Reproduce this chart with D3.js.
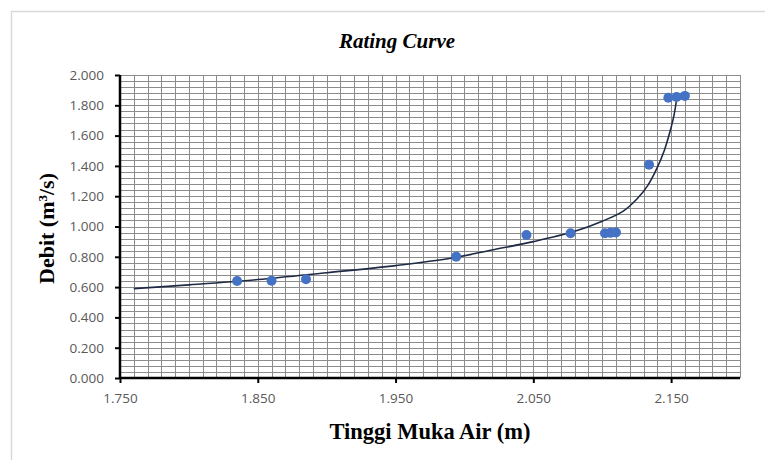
<!DOCTYPE html>
<html>
<head>
<meta charset="utf-8">
<script src="https://cdn.jsdelivr.net/npm/d3@7"></script>
<style>
  body { margin: 0; background: #fff; }
</style>
</head>
<body>
<div id="chart"></div>
<script>
const width = 765;
const height = 460;
const marginTop = 75;
const marginRight = 25;
const marginBottom = 82;
const marginLeft = 120;

// measured points (tinggi muka air vs debit)
const tinggi = [1.835, 1.860, 1.885, 1.994, 2.045, 2.077, 2.102, 2.106, 2.110, 2.134, 2.148, 2.154, 2.160];
const debit  = [0.640, 0.642, 0.652, 0.801, 0.944, 0.955, 0.955, 0.958, 0.960, 1.408, 1.850, 1.855, 1.862];

// trend line
const curveH = [1.760, 1.800, 1.850, 1.900, 1.950, 1.990, 2.020, 2.050, 2.080, 2.100, 2.115, 2.125, 2.133, 2.140, 2.145, 2.149, 2.152, 2.154];
const curveQ = [0.590, 0.615, 0.650, 0.695, 0.742, 0.790, 0.845, 0.900, 0.968, 1.035, 1.100, 1.180, 1.270, 1.390, 1.500, 1.620, 1.730, 1.840];

const xTicks = [1.75, 1.85, 1.95, 2.05, 2.15];
const yTicks = [0, 0.2, 0.4, 0.6, 0.8, 1.0, 1.2, 1.4, 1.6, 1.8, 2.0];

const svg = d3.select("#chart")
    .append("svg")
    .attr("width", width)
    .attr("height", height)
    .style("font-family", "'Liberation Serif', 'Times New Roman', serif");

// outer chart border
svg.append("path")
    .attr("d", `M11.5,${height} V11.5 H${width}`)
    .attr("fill", "none")
    .attr("stroke", "#d9d9d9")
    .attr("stroke-width", 1.5);

const x = d3.scaleLinear()
    .domain([1.75, 2.2])
    .range([marginLeft, width - marginRight]);

const y = d3.scaleLinear()
    .domain([0, 2])
    .range([height - marginBottom, marginTop]);

// minor grid
const xMinor = d3.range(0, 46).map(i => 1.75 + i * 0.01);
const yMinor = d3.range(0, 51).map(i => i * 0.04);

const grid = svg.append("g").attr("stroke", "#8c8c8c").attr("stroke-width", 1);
grid.selectAll("line.v")
    .data(xMinor)
    .join("line")
    .attr("class", "v")
    .attr("x1", d => Math.round(x(d)) + 0.5)
    .attr("x2", d => Math.round(x(d)) + 0.5)
    .attr("y1", y(0))
    .attr("y2", y(2));
grid.selectAll("line.h")
    .data(yMinor)
    .join("line")
    .attr("class", "h")
    .attr("x1", x(1.75))
    .attr("x2", x(2.2))
    .attr("y1", d => Math.round(y(d)) + 0.5)
    .attr("y2", d => Math.round(y(d)) + 0.5);

// axes
const tickFont = "'Open Sans', sans-serif";
const yAxis = svg.append("g")
    .attr("transform", `translate(${marginLeft},0)`)
    .call(d3.axisLeft(y).tickValues(yTicks).tickFormat(d3.format(".3f")).tickSize(5).tickPadding(11));
const xAxis = svg.append("g")
    .attr("transform", `translate(0,${height - marginBottom})`)
    .call(d3.axisBottom(x).tickValues(xTicks).tickFormat(d3.format(".3f")).tickSize(5).tickPadding(10));

[yAxis, xAxis].forEach(a => {
    a.select(".domain").attr("stroke", "#000").attr("stroke-width", 2.5);
    a.selectAll(".tick line").attr("stroke", "#000").attr("stroke-width", 2);
    a.selectAll(".tick text")
        .attr("fill", "#595959")
        .style("font-family", tickFont)
        .style("font-size", "13.5px");
});
yAxis.select(".domain").attr("d", `M0,${y(0)}V${y(2)}`);
xAxis.select(".domain").attr("d", `M${x(1.75)},0H${x(2.2)}`);

// trend line
const line = d3.line()
    .x(d => x(d[0]))
    .y(d => y(d[1]))
    .curve(d3.curveCatmullRom.alpha(0.5));

svg.append("path")
    .datum(curveH.map((h, i) => [h, curveQ[i]]))
    .attr("fill", "none")
    .attr("stroke", "#1f2a44")
    .attr("stroke-width", 1.6)
    .attr("d", line);

// points
svg.append("g")
    .selectAll("circle")
    .data(tinggi.map((h, i) => [h, debit[i]]))
    .join("circle")
    .attr("cx", d => x(d[0]))
    .attr("cy", d => y(d[1]))
    .attr("r", 5)
    .attr("fill", "#4472c4");

// titles
svg.append("text")
    .attr("x", 397)
    .attr("y", 48)
    .attr("text-anchor", "middle")
    .style("font-size", "21px")
    .style("font-weight", "bold")
    .style("font-style", "italic")
    .text("Rating Curve");

const yTitle = svg.append("text")
    .attr("transform", `translate(54, ${(y(0) + y(2)) / 2 + 2}) rotate(-90)`)
    .attr("text-anchor", "middle")
    .style("font-size", "22px")
    .style("font-weight", "bold");
yTitle.append("tspan").text("Debit (m");
yTitle.append("tspan").attr("baseline-shift", "super").style("font-size", "13px").text("3");
yTitle.append("tspan").text("/s)");

svg.append("text")
    .attr("x", 430)
    .attr("y", 439)
    .attr("text-anchor", "middle")
    .style("font-size", "22.5px")
    .style("font-weight", "bold")
    .text("Tinggi Muka Air (m)");
</script>
</body>
</html>
